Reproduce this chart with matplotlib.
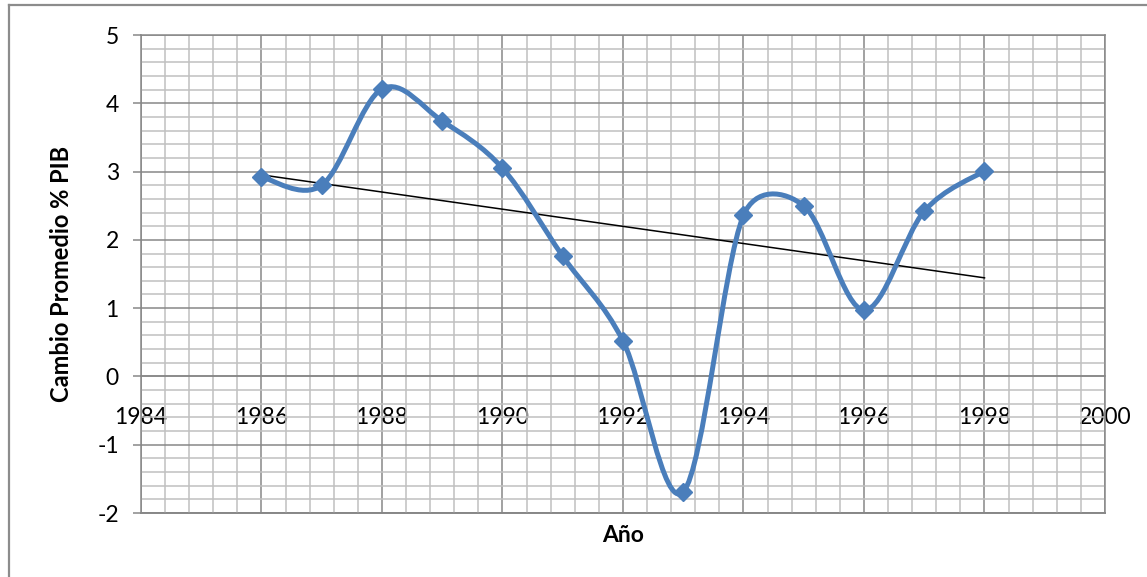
import numpy as np
import matplotlib
matplotlib.use("Agg")
import matplotlib.pyplot as plt
from matplotlib.lines import Line2D
from matplotlib.path import Path
from matplotlib.patches import PathPatch

plt.rcParams['font.family'] = ['Lato', 'DejaVu Sans']
plt.rcParams['axes.unicode_minus'] = False

# data
years = [1986, 1987, 1988, 1989, 1990, 1991, 1992, 1993, 1994, 1995, 1996, 1997, 1998]
cambio_pib = [2.92, 2.80, 4.21, 3.74, 3.05, 1.76, 0.52, -1.69, 2.36, 2.50, 0.97, 2.42, 3.01]
x_ticks = [1984, 1986, 1988, 1990, 1992, 1994, 1996, 1998, 2000]
y_ticks = [-2, -1, 0, 1, 2, 3, 4, 5]

BLUE = '#4A7EBB'
MAJOR = '#878787'
MINOR = '#C0C0C0'

fig = plt.figure(figsize=(11.47, 5.77), dpi=100)
ax = fig.add_axes([141 / 1147, 1 - 513 / 577, 964 / 1147, 478 / 577])
ax.set_xlim(1984, 2000)
ax.set_ylim(-2, 5)

# grid: minor every 0.4 year / 0.2 unit, major at ticks
ax.set_xticks(x_ticks)
ax.set_yticks(y_ticks)
ax.set_xticks(np.arange(1984, 2000.01, 0.4), minor=True)
ax.set_yticks(np.arange(-2, 5.01, 0.2), minor=True)
ax.grid(which='minor', color=MINOR, linewidth=1.1)
ax.grid(which='major', color=MAJOR, linewidth=1.1)
ax.set_axisbelow(True)

for side in ['left', 'right', 'top', 'bottom']:
    ax.spines[side].set_color(MAJOR)
    ax.spines[side].set_linewidth(1.1)
ax.spines['bottom'].set_position(('data', 0))
ax.axhline(-2, color=MAJOR, linewidth=1.4, clip_on=False, zorder=0.5)

ax.tick_params(axis='x', which='both', length=0, pad=22, labelsize=16.5)
ax.tick_params(axis='y', which='major', length=6, width=1.1, color=MAJOR,
               pad=10, labelsize=16.5)
ax.tick_params(axis='y', which='minor', length=0)

ax.set_ylabel('Cambio Promedio % PIB', fontsize=17, fontweight='bold')
ax.yaxis.set_label_coords(-0.071, 0.5)
ax.set_xlabel('Año', fontsize=16.5, fontweight='bold')
ax.xaxis.set_label_coords(0.5, -0.025)

# linear trend line
slope, icpt = np.polyfit(years, cambio_pib, 1)
tx = np.array([years[0], years[-1]])
ax.plot(tx, slope * tx + icpt, color='black', linewidth=1.1, zorder=3)

# Excel-like smoothed line (bezier through points, computed in display space)
pts = ax.transData.transform(np.column_stack([years, cambio_pib]))
n = len(pts)
verts = [pts[0]]
codes = [Path.MOVETO]
for i in range(n - 1):
    p0 = pts[max(i - 1, 0)]
    p1 = pts[i]
    p2 = pts[i + 1]
    p3 = pts[min(i + 2, n - 1)]
    seg = np.hypot(*(p2 - p1))
    t1 = (p2 - p0) / 6.0
    t2 = (p3 - p1) / 6.0
    l1 = np.hypot(*t1)
    l2 = np.hypot(*t2)
    if l1 > seg / 2:
        t1 = t1 * (seg / 2) / l1
    if l2 > seg / 2:
        t2 = t2 * (seg / 2) / l2
    verts += [p1 + t1, p2 - t2, p2]
    codes += [Path.CURVE4] * 3
inv = ax.transData.inverted()
path = Path(inv.transform(np.array(verts)), codes)
ax.add_patch(PathPatch(path, facecolor='none', edgecolor=BLUE, linewidth=3.6,
                       capstyle='round', joinstyle='round', zorder=4))
ax.plot(years, cambio_pib, linestyle='none', marker='D', markersize=9.5,
        color=BLUE, markeredgecolor=BLUE, markeredgewidth=1, zorder=5)

# outer chart border (only top and left visible in the crop)
bx, by = 9 / 1147, 1 - 5 / 577
fig.add_artist(Line2D([bx, bx], [0, by], transform=fig.transFigure,
                      color='#8C8C8C', linewidth=1.6))
fig.add_artist(Line2D([bx, 1], [by, by], transform=fig.transFigure,
                      color='#8C8C8C', linewidth=1.6))

fig.savefig('out.png', dpi=100)
